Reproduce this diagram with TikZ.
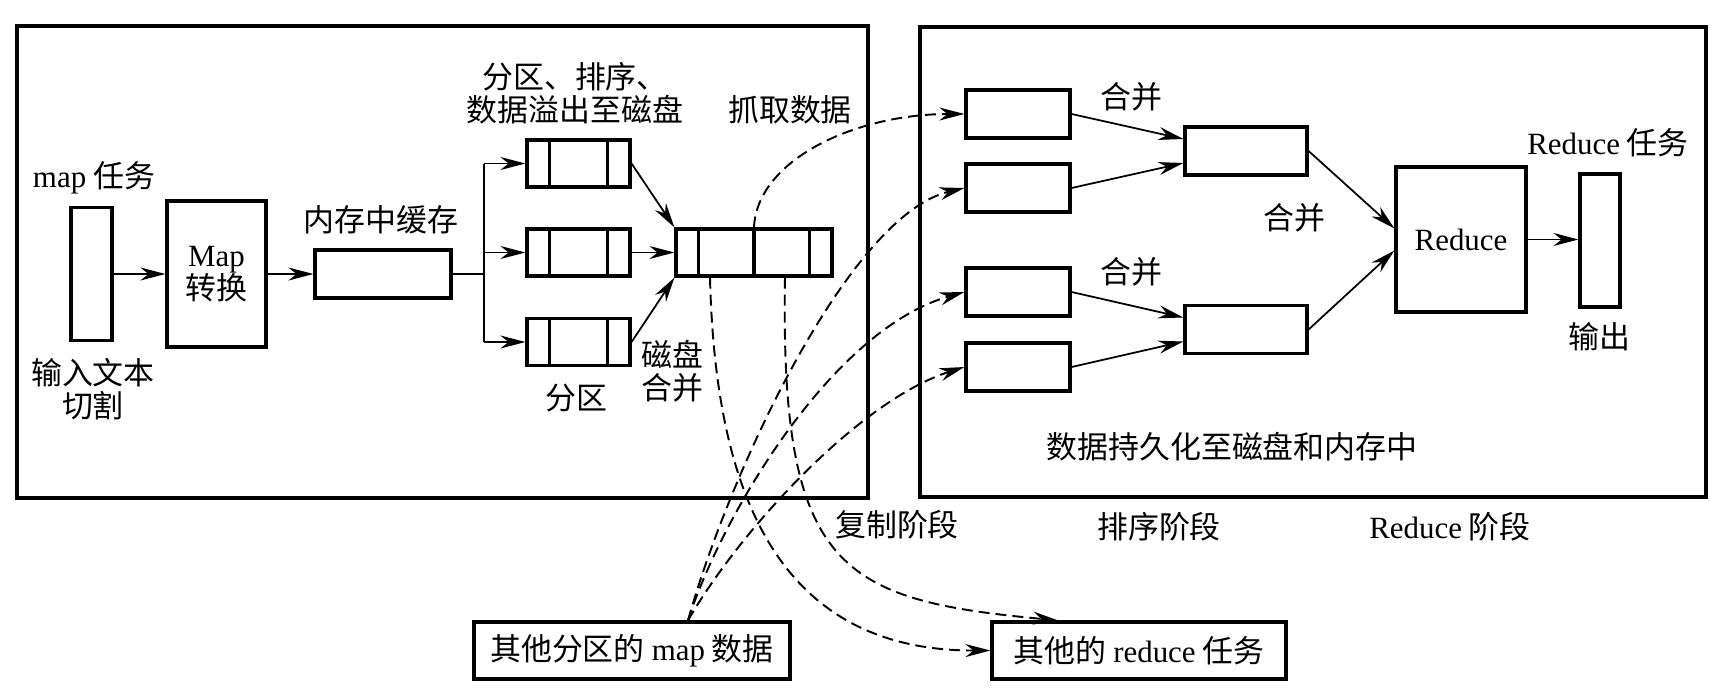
\documentclass[tikz,border=0pt]{standalone}
\usepackage{fontspec}
\setmainfont{Liberation Serif}
\newfontfamily\zhfont{Noto Sans CJK SC}
\usetikzlibrary{arrows.meta}

\begin{document}
\begin{tikzpicture}[x=0.1mm,y=-0.1mm,
  font=\zhfont\fontsize{8.8}{9.4}\selectfont,
  box/.style={draw,line width=0.9pt,inner sep=0pt},
  frame/.style={line width=0.9pt},
  arr/.style={line width=0.5pt,-{Stealth[length=2.5mm,width=1.3mm]}},
  fetch/.style={line width=0.55pt,dash pattern=on 1.1mm off 0.6mm,-{Stealth[length=2.5mm,width=1.3mm]}}]
\useasboundingbox (0,0) rectangle (1721,695);
\draw[frame] (17,26) rectangle (868,498);
\draw[frame] (920,27) rectangle (1706,497);

\node[box,minimum width=4.1mm,minimum height=13.3mm] (input) at (91.5,274) {};
\node[box,minimum width=9.9mm,minimum height=14.6mm,align=center] (map) at (216.5,274) {{\rmfamily Map}\\转换};
\node[box,minimum width=13.6mm,minimum height=4.8mm] (buf) at (383,274) {};
\foreach \n/\y in {1/163.5,2/252.5,3/342}
  \node[box,minimum width=10.3mm,minimum height=4.7mm] (p\n) at (578.5,\y) {};
\foreach \n in {1,2,3}
  \draw[line width=0.9pt] ([xshift=2.4mm]p\n.north west) -- ([xshift=2.4mm]p\n.south west)
    ([xshift=-2.4mm]p\n.north east) -- ([xshift=-2.4mm]p\n.south east);
\node[box,minimum width=15.6mm,minimum height=4.7mm] (mg) at (754,252.5) {};
\draw[line width=0.9pt] ([xshift=2.4mm]mg.north west) -- ([xshift=2.4mm]mg.south west)
  (mg.north) -- (mg.south)
  ([xshift=-2.4mm]mg.north east) -- ([xshift=-2.4mm]mg.south east);

\foreach \n/\y in {1/114,2/188,3/292,4/367}
  \node[box,minimum width=10.4mm,minimum height=4.8mm] (s\n) at (1018,\y) {};
\node[box,minimum width=12.2mm,minimum height=4.8mm] (ma) at (1246,151) {};
\node[box,minimum width=12.2mm,minimum height=4.8mm] (mb) at (1246,329.5) {};
\node[box,minimum width=13mm,minimum height=14.5mm] (red) at (1461,239.5) {{\rmfamily Reduce}};
\node[box,minimum width=4mm,minimum height=13.3mm] (out) at (1600,240.5) {};
\node[box,minimum width=31.6mm,minimum height=5.7mm] (md) at (632,650.5) {其他分区的 {\rmfamily map} 数据};
\node[box,minimum width=29.4mm,minimum height=5.7mm] (rt) at (1139,650.5) {其他的 {\rmfamily reduce} 任务};

\draw[arr] (input) -- (map);
\draw[arr] (map) -- (buf);
\coordinate (br) at (484,274);
\draw[line width=0.5pt] (buf.east) -- (br) (br |- p1.west) -- (br |- p3.west);
\foreach \n in {1,2,3}
  \draw[arr] (br |- p\n.west) -- (p\n.west);
\draw[arr] (p1.east) -- (mg.north west);
\draw[arr] (p2.east) -- (mg.west);
\draw[arr] (p3.east) -- (mg.south west);

\draw[arr] (s1.east) -- ([yshift=1.2mm]ma.west);
\draw[arr] (s2.east) -- ([yshift=-1.2mm]ma.west);
\draw[arr] (s3.east) -- ([yshift=1.2mm]mb.west);
\draw[arr] (s4.east) -- ([yshift=-1.2mm]mb.west);
\draw[arr] (ma.east) -- ([yshift=1.1mm]red.west);
\draw[arr] (mb.east) -- ([yshift=-1.1mm]red.west);
\draw[arr] (red.east) -- (red.east -| out.west);

\draw[fetch] (mg.north) .. controls (757,160) and (855,114) .. (s1.west);
\draw[fetch] ([xshift=-4.4mm]mg.south) .. controls (715,480) and (770,651) .. (rt.west);
\draw[fetch] ([xshift=3.1mm]mg.south) .. controls (780,570) and (840,600) .. ([xshift=-8.1mm]rt.north);
\coordinate (mdt) at ([xshift=5.6mm]md.north);
\draw[fetch] (mdt) .. controls (730,470) and (850,215) .. (s2.west);
\draw[fetch] (mdt) .. controls (720,520) and (830,330) .. (s3.west);
\draw[fetch] (mdt) .. controls (740,530) and (860,400) .. (s4.west);

\node (maptask) at (94,178) {{\rmfamily map} 任务};
\node[align=center] (split) at (93,389) {输入文本\\切割};
\node (cache) at (381,220) {内存中缓存};
\node[align=center] (spill) at (575,93) {分区、排序、\\数据溢出至磁盘};
\node (grab) at (790,110) {抓取数据};
\node[align=center] (dmerge) at (672,371) {磁盘\\合并};
\node (part) at (576,398) {分区};
\node (m1) at (1131,97) {合并};
\node (m2) at (1294,218) {合并};
\node (m3) at (1131,272) {合并};
\node (rtask) at (1608,143) {{\rmfamily Reduce} 任务};
\node (outlbl) at (1599,337) {输出};
\node (persist) at (1232,447) {数据持久化至磁盘和内存中};
\node (copy) at (897,525) {复制阶段};
\node (sort) at (1159,527) {排序阶段};
\node (redph) at (1450,527) {{\rmfamily Reduce} 阶段};
\end{tikzpicture}
\end{document}
